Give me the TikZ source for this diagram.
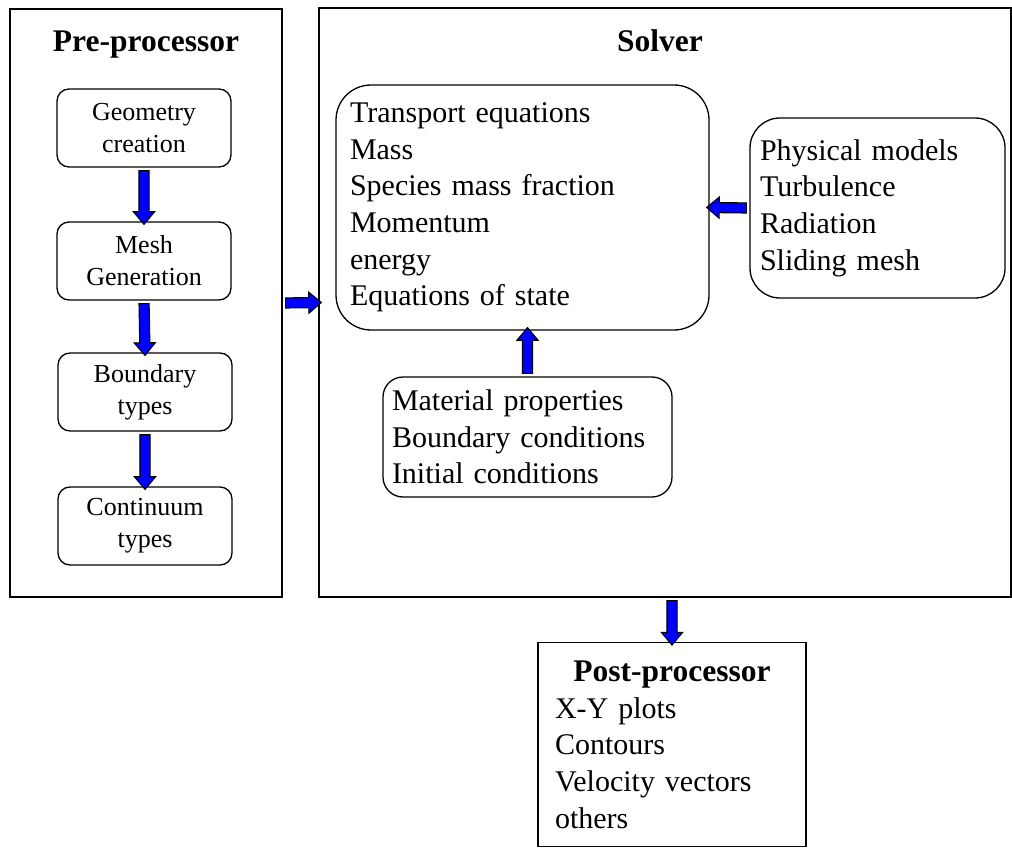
\documentclass[tikz,border=0pt]{standalone}
\usepackage{fontspec}
\setmainfont{Liberation Serif}
\usetikzlibrary{shapes.arrows,calc}

\tikzset{
  stage/.style={draw=black, line width=1.3pt, rectangle, inner sep=0pt},
  stepbox/.style={draw=black, line width=1.3pt, rounded corners=12pt,
    minimum width=174pt, minimum height=78pt, align=center, inner sep=0pt,
    font=\fontsize{26}{32}\selectfont},
  listbox/.style={draw=black, line width=1.3pt, align=left, inner ysep=0pt,
    font=\fontsize{30}{36.6}\selectfont},
  heading/.style={font=\fontsize{31.5}{36}\selectfont\bfseries},
  flowarrow/.style={single arrow, draw=black, fill=blue, line width=1.1pt,
    inner xsep=0pt, inner ysep=4.5pt, single arrow head extend=5.5pt,
    single arrow tip angle=80}
}

% block arrow between two points
\newcommand{\blockarrow}[2]{%
  \path let \p1=($(#2)-(#1)$), \n1={veclen(\x1,\y1)} in
    (#1) -- (#2) node[flowarrow, midway, sloped, allow upside down,
      minimum height=\n1] {};
}

\begin{document}
\begin{tikzpicture}[x=1pt, y=-1pt]
  \useasboundingbox (0,0) rectangle (1012,848);

  % the two stages
  \node[stage, minimum width=272pt, minimum height=588pt] (pre) at (146,303) {};
  \node[stage, minimum width=692pt, minimum height=589pt] (solver) at (665,302.5) {};
  \node[heading, anchor=base] (pretitle) at (146,52) {Pre-processor};
  \node[heading, anchor=base] (soltitle) at (660,52) {Solver};

  % pre-processor steps
  \node[stepbox] (geom) at (144,128) {Geometry\\creation};
  \node[stepbox] (mesh) at (144,261) {Mesh\\Generation};
  \node[stepbox] (bound) at (145,392) {Boundary\\types};
  \node[stepbox] (cont) at (145,526) {Continuum\\types};

  % solver contents
  \node[listbox, rounded corners=35pt, text width=345pt, inner xsep=14pt,
    minimum height=245pt] (transport) at (522.5,207.5)
    {Transport equations\\Mass\\Species mass fraction\\Momentum\\energy\\Equations of state};
  \node[listbox, rounded corners=30pt, text width=235pt, inner xsep=10pt,
    minimum height=180pt] (phys) at (877.5,208)
    {Physical models\\Turbulence\\Radiation\\Sliding mesh};
  \node[listbox, rounded corners=20pt, text width=271pt, inner xsep=9pt,
    minimum height=120pt] (matl) at (527.5,437)
    {Material properties\\Boundary conditions\\Initial conditions};

  % post-processor
  \node[listbox, text width=234pt, inner xsep=17pt, minimum height=204pt,
    anchor=north] (post) at (672,642)
    {\makebox[\linewidth]{\fontsize{31.5}{36}\selectfont\bfseries Post-processor}\\
     X-Y plots\\Contours\\Velocity vectors\\others};

  % arrows
  \blockarrow{geom.south}{mesh.north}
  \blockarrow{mesh.south}{bound.north}
  \blockarrow{bound.south}{cont.north}
  \blockarrow{pre.east}{solver.west}
  \blockarrow{phys.west}{transport.east}
  \coordinate (matltop) at (matl.north |- transport.south);
  \blockarrow{matl.north}{matltop}
  \coordinate (posttop) at (post.north |- solver.south);
  \blockarrow{posttop}{post.north}
\end{tikzpicture}
\end{document}
